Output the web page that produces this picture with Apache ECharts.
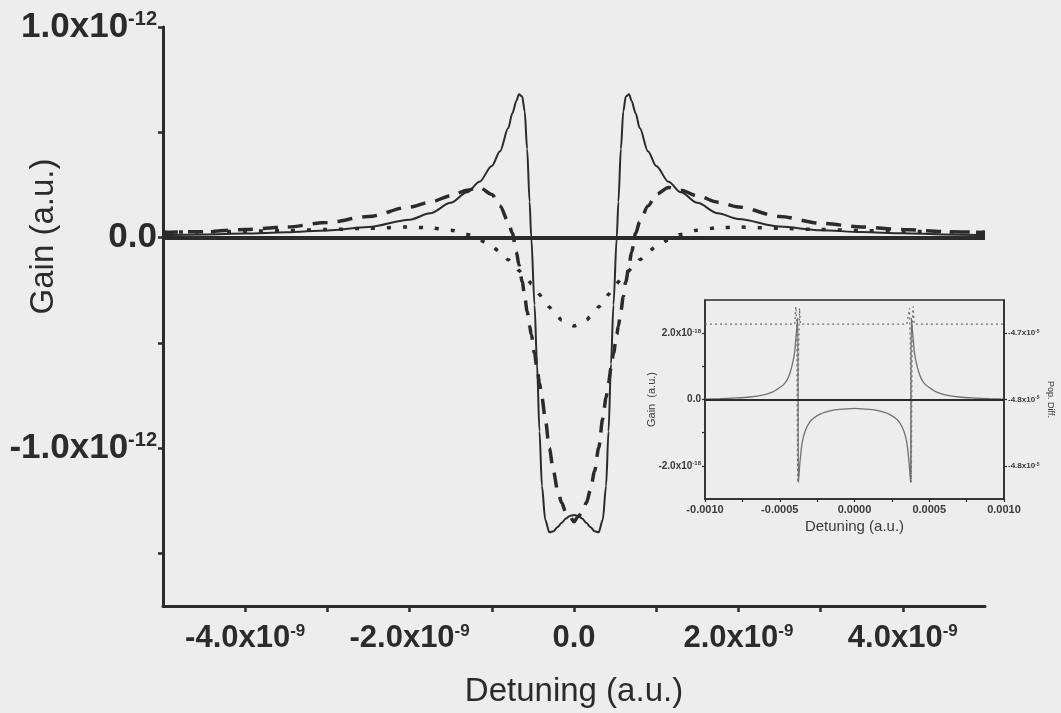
<!DOCTYPE html>
<html><head><meta charset="utf-8">
<script src="https://cdn.jsdelivr.net/npm/echarts@6/dist/echarts.min.js"></script>
<style>html,body{margin:0;padding:0;background:#ededed}#c{width:1061px;height:713px}</style>
</head><body><div id="c"></div>
<script>
// ---- main chart (x in units of 1e-9, y in units of 1e-12) ----
const detuning = [-5,-4.5,-4,-3.5,-3,-2.5,-2,-1.75,-1.5,-1.3,-1.15,-1,-0.9,-0.8,-0.75,-0.7,-0.67,-0.63,-0.6,-0.57,-0.54,-0.52,-0.48,-0.45,-0.42,-0.39,-0.35,-0.3,-0.25,-0.2,-0.15,-0.1,-0.05,
  0,
  0.05,0.1,0.15,0.2,0.25,0.3,0.35,0.39,0.42,0.45,0.48,0.52,0.54,0.57,0.6,0.63,0.67,0.7,0.75,0.8,0.9,1,1.15,1.3,1.5,1.75,2,2.5,3,3.5,4,4.5,5];
const gainSolid = [0.012,0.015,0.019,0.025,0.034,0.05,0.085,0.115,0.165,0.215,0.265,0.34,0.41,0.52,0.59,0.65,0.68,0.67,0.6,0.42,0.17,0.0,-0.32,-0.6,-0.92,-1.18,-1.34,-1.40,-1.395,-1.375,-1.355,-1.335,-1.322,
  -1.318,
  -1.322,-1.335,-1.355,-1.375,-1.395,-1.40,-1.34,-1.18,-0.92,-0.6,-0.32,0.0,0.17,0.42,0.6,0.67,0.68,0.65,0.59,0.52,0.41,0.34,0.265,0.215,0.165,0.115,0.088,0.052,0.035,0.026,0.02,0.015,0.012];
const gainDashed = [0.024,0.028,0.038,0.05,0.072,0.10,0.145,0.168,0.198,0.225,0.238,0.205,0.15,0.075,0.02,-0.07,-0.13,-0.21,-0.28,-0.35,-0.42,-0.46,-0.55,-0.62,-0.69,-0.76,-0.86,-1.0,-1.11,-1.2,-1.26,-1.305,-1.325,
  -1.35,
  -1.325,-1.305,-1.26,-1.2,-1.11,-1.0,-0.86,-0.76,-0.69,-0.62,-0.55,-0.46,-0.42,-0.35,-0.28,-0.21,-0.13,-0.07,0.02,0.075,0.15,0.205,0.238,0.225,0.198,0.168,0.145,0.10,0.068,0.05,0.038,0.028,0.024];
const gainDotted = [0.025,0.027,0.03,0.033,0.038,0.044,0.05,0.046,0.035,0.015,-0.012,-0.042,-0.068,-0.105,-0.125,-0.145,-0.157,-0.172,-0.185,-0.198,-0.21,-0.22,-0.24,-0.255,-0.27,-0.285,-0.305,-0.33,-0.355,-0.375,-0.392,-0.405,-0.415,
  -0.42,
  -0.415,-0.405,-0.392,-0.375,-0.355,-0.33,-0.305,-0.285,-0.27,-0.255,-0.24,-0.22,-0.21,-0.198,-0.185,-0.172,-0.157,-0.145,-0.125,-0.105,-0.068,-0.042,-0.012,0.015,0.035,0.046,0.05,0.044,0.038,0.033,0.03,0.027,0.025];
const xTickValues = [-4,-3,-2,-1,0,1,2,3,4];
const xLabelValues = [-4,-2,0,2,4];
const yTickValues = [-1.5,-1,-0.5,0,0.5,1];
const yLabelValues = [-1,0,1];

// ---- inset (x in units of 1e-4, gain in 1e-18, population difference in 1e-5) ----
const insetDetuning = [-10,-9,-8,-7,-6,-5.5,-5,-4.7,-4.5,-4.3,-4.1,-4.0,-3.9,-3.8,-3.75,-3.65,-3.5,-3.3,-3.0,-2.7,-2.3,-2.0,-1.5,-1.0,-0.5,
  0,
  0.5,1.0,1.5,2.0,2.3,2.7,3.0,3.3,3.5,3.65,3.75,3.8,3.9,4.0,4.1,4.3,4.5,4.7,5,5.5,6,7,8,9,10];
const insetGain = [0.01,0.025,0.045,0.075,0.15,0.22,0.36,0.47,0.6,0.82,1.18,1.45,1.95,2.45,-2.5,-1.9,-1.3,-0.95,-0.68,-0.55,-0.44,-0.39,-0.33,-0.3,-0.28,
  -0.27,
  -0.28,-0.3,-0.33,-0.39,-0.44,-0.55,-0.68,-0.95,-1.3,-1.9,-2.5,2.45,1.95,1.45,1.18,0.82,0.6,0.47,0.36,0.22,0.15,0.075,0.045,0.025,0.01];
const insetPopX = [-10,-4.3,-4.0,-3.92,-3.86,-3.8,-3.74,-3.68,-3.62,-3.5,3.5,3.62,3.68,3.74,3.8,3.86,3.92,4.0,4.3,10];
const insetPop = [-4.7146,-4.7146,-4.7146,-4.704,-4.7146,-4.81,-4.73,-4.705,-4.7146,-4.7146,-4.7146,-4.7146,-4.705,-4.73,-4.81,-4.7146,-4.704,-4.7146,-4.7146,-4.7146];
const insetXTicks = [-10,-7.5,-5,-2.5,0,2.5,5,7.5,10];
const insetXLabels = [-10,-5,0,5,10];
const insetGainTicks = [-2,-1,0,1,2];
const insetGainLabels = [-2,0,2];
const insetPopTicks = [-4.80,-4.76,-4.72];

const pairs = (xs, ys) => xs.map((x, i) => [x, ys[i]]);
const FONT = "'Liberation Sans', Arial, Helvetica, sans-serif";
const INK = '#2b2b2b';

const chart = echarts.init(document.getElementById('c'), null, {renderer: 'canvas'});
chart.setOption({
  animation: false,
  backgroundColor: '#ededed',
  grid: [
    {left: 163, right: 76, top: 27, bottom: 107, outerBoundsMode: 'none', containLabel: false},
    {left: 705, top: 300, width: 299, height: 199, outerBoundsMode: 'none', containLabel: false,
     show: true, borderColor: INK, borderWidth: 1.5, backgroundColor: 'transparent'}
  ],
  xAxis: [
    {
      type: 'value', gridIndex: 0, min: -5, max: 5,
      axisLine: {show: true, onZero: false, lineStyle: {color: INK, width: 3}},
      axisTick: {show: true, customValues: xTickValues, length: 6, lineStyle: {color: INK, width: 2.5}},
      splitLine: {show: false},
      axisLabel: {
        customValues: xLabelValues, margin: 17,
        formatter: v => v === 0 ? '{b|0.0}' : '{b|' + v.toFixed(1) + 'x10}{s|-9}',
        rich: {
          b: {fontFamily: FONT, fontWeight: 'bold', fontSize: 31, color: INK},
          s: {fontFamily: FONT, fontWeight: 'bold', fontSize: 17, color: INK, verticalAlign: 'top'}
        }
      },
      name: 'Detuning (a.u.)', nameLocation: 'middle', nameGap: 69, nameMoveOverlap: false,
      nameTextStyle: {fontFamily: FONT, fontSize: 33, color: INK}
    },
    {
      type: 'value', gridIndex: 1, min: -10, max: 10,
      axisLine: {show: true, onZero: false, lineStyle: {color: INK, width: 1.5}},
      axisTick: {show: true, customValues: insetXTicks, length: 3, lineStyle: {color: INK, width: 1.2}},
      splitLine: {show: false},
      axisLabel: {
        customValues: insetXLabels, margin: 5,
        formatter: v => (v / 10000).toFixed(4),
        fontFamily: FONT, fontWeight: 'bold', fontSize: 11, color: '#3a3a3a'
      },
      name: 'Detuning (a.u.)', nameLocation: 'middle', nameGap: 20, nameMoveOverlap: false,
      nameTextStyle: {fontFamily: FONT, fontSize: 15, color: '#3a3a3a'}
    }
  ],
  yAxis: [
    {
      type: 'value', gridIndex: 0, min: -1.75, max: 1.0,
      axisLine: {show: true, onZero: false, lineStyle: {color: INK, width: 3}},
      axisTick: {show: true, customValues: yTickValues, length: 5, lineStyle: {color: INK, width: 2.5}},
      splitLine: {show: false},
      axisLabel: {
        customValues: yLabelValues, margin: 6,
        formatter: v => v === 0 ? '{b|0.0}' : '{b|' + v.toFixed(1) + 'x10}{s|-12}',
        rich: {
          b: {fontFamily: FONT, fontWeight: 'bold', fontSize: 35, color: INK},
          s: {fontFamily: FONT, fontWeight: 'bold', fontSize: 20, color: INK, verticalAlign: 'top'}
        }
      },
      name: 'Gain (a.u.)', nameLocation: 'middle', nameGap: 103, nameMoveOverlap: false,
      nameTextStyle: {fontFamily: FONT, fontSize: 33, color: INK, padding: [0, 0, 0, 160]}
    },
    {
      type: 'value', gridIndex: 1, min: -3, max: 3,
      axisLine: {show: true, onZero: false, lineStyle: {color: INK, width: 1.5}},
      axisTick: {show: true, customValues: insetGainTicks, length: 3, lineStyle: {color: INK, width: 1.2}},
      splitLine: {show: false},
      axisLabel: {
        customValues: insetGainLabels, margin: 4,
        formatter: v => v === 0 ? '{b|0.0}' : '{b|' + v.toFixed(1) + 'x10}{s|-18}',
        rich: {
          b: {fontFamily: FONT, fontWeight: 'bold', fontSize: 10, color: '#3a3a3a'},
          s: {fontFamily: FONT, fontWeight: 'bold', fontSize: 6, color: '#3a3a3a', verticalAlign: 'top'}
        }
      },
      name: 'Gain  (a.u.)', nameLocation: 'middle', nameGap: 48, nameMoveOverlap: false,
      nameTextStyle: {fontFamily: FONT, fontSize: 11, color: '#3a3a3a'}
    },
    {
      type: 'value', gridIndex: 1, position: 'right', min: -4.82, max: -4.70,
      axisLine: {show: true, onZero: false, lineStyle: {color: INK, width: 1.5}},
      axisTick: {show: true, customValues: insetPopTicks, length: 3, lineStyle: {color: INK, width: 1.2}},
      splitLine: {show: false},
      axisLabel: {
        customValues: insetPopTicks, margin: 4,
        formatter: v => '{b|' + v.toFixed(1) + 'x10}{s|-5}',
        rich: {
          b: {fontFamily: FONT, fontWeight: 'bold', fontSize: 8, color: '#3a3a3a'},
          s: {fontFamily: FONT, fontWeight: 'bold', fontSize: 5, color: '#3a3a3a', verticalAlign: 'top'}
        }
      },
      name: 'Pop. Diff.', nameLocation: 'middle', nameGap: 42, nameRotate: -90, nameMoveOverlap: false,
      nameTextStyle: {fontFamily: FONT, fontSize: 9, color: '#3a3a3a'}
    }
  ],
  series: [
    {
      type: 'line', xAxisIndex: 0, yAxisIndex: 0, data: pairs(detuning, gainSolid),
      showSymbol: false, smooth: 0.3, smoothMonotone: 'x',
      lineStyle: {color: INK, width: 2},
      markLine: {silent: true, symbol: 'none', label: {show: false},
        lineStyle: {color: INK, width: 4, type: 'solid'}, data: [{yAxis: 0}]}
    },
    {
      type: 'line', xAxisIndex: 0, yAxisIndex: 0, data: pairs(detuning, gainDashed),
      showSymbol: false, smooth: 0.3, smoothMonotone: 'x',
      lineStyle: {color: INK, width: 3.5, type: [15, 10]}
    },
    {
      type: 'line', xAxisIndex: 0, yAxisIndex: 0, data: pairs(detuning, gainDotted),
      showSymbol: false, smooth: 0.3, smoothMonotone: 'x',
      lineStyle: {color: INK, width: 3.5, type: [4, 12]}
    },
    {
      type: 'line', xAxisIndex: 1, yAxisIndex: 1, data: pairs(insetDetuning, insetGain),
      showSymbol: false, smooth: 0.2,
      lineStyle: {color: '#707070', width: 1.3},
      markLine: {silent: true, symbol: 'none', label: {show: false},
        lineStyle: {color: INK, width: 2, type: 'solid'}, data: [{yAxis: 0}]}
    },
    {
      type: 'line', xAxisIndex: 1, yAxisIndex: 2, data: pairs(insetPopX, insetPop),
      showSymbol: false,
      lineStyle: {color: '#707070', width: 1.3, type: [2, 3]}
    }
  ]
});
</script></body></html>
